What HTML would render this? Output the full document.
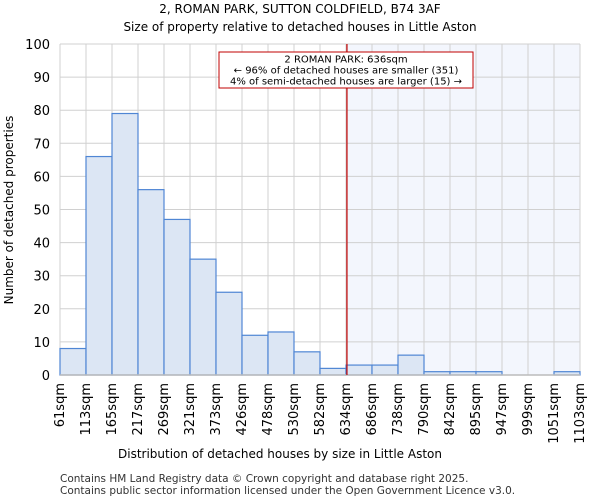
<!DOCTYPE html>
<html><head><meta charset="utf-8"><style>
body{margin:0;background:#fff;}
svg{display:block;font-family:"DejaVu Sans","Liberation Sans",sans-serif;}
</style></head><body>
<svg id="c" width="600" height="500">
<text x="300" y="13" text-anchor="middle" font-size="12">2, ROMAN PARK, SUTTON COLDFIELD, B74 3AF</text>
<text x="300" y="31" text-anchor="middle" font-size="12">Size of property relative to detached houses in Little Aston</text>
<g id="plot"></g>
<text x="280" y="458" text-anchor="middle" font-size="12">Distribution of detached houses by size in Little Aston</text>
<text transform="translate(13,210) rotate(-90)" text-anchor="middle" font-size="12">Number of detached properties</text>
<text x="60" y="482" font-size="10.5" fill="#333">Contains HM Land Registry data © Crown copyright and database right 2025.</text>
<text x="60" y="494" font-size="10.5" fill="#333">Contains public sector information licensed under the Open Government Licence v3.0.</text>
</svg>
<script>
const binLabels=["61sqm","113sqm","165sqm","217sqm","269sqm","321sqm","373sqm","426sqm","478sqm","530sqm","582sqm","634sqm","686sqm","738sqm","790sqm","842sqm","895sqm","947sqm","999sqm","1051sqm","1103sqm"];
const binEdges=[61,113.1,165.2,217.3,269.4,321.5,373.6,425.7,477.8,529.9,582,634.1,686.2,738.3,790.4,842.5,894.6,946.7,998.8,1050.9,1103];
const counts=[8,66,79,56,47,35,25,12,13,7,2,3,3,6,1,1,1,0,0,1];
const yTicks=[0,10,20,30,40,50,60,70,80,90,100];
const propertySize=636;
const annotation=["2 ROMAN PARK: 636sqm","← 96% of detached houses are smaller (351)","4% of semi-detached houses are larger (15) →"];
const L=60,R=580,T=44,B=375;
const x=v=>L+(v-binEdges[0])/(binEdges[binEdges.length-1]-binEdges[0])*(R-L);
const y=v=>B-v/100*(B-T);
const NS="http://www.w3.org/2000/svg";
const g=document.getElementById('plot');
function mk(t,a,p){const e=document.createElementNS(NS,t);for(const k in a)e.setAttribute(k,a[k]);(p||g).appendChild(e);return e;}
const px=x(propertySize);
const sh=mk('rect',{x:px,y:T,width:R-px,height:B-T,fill:'#f3f6fd'});


yTicks.forEach(t=>{
 const l=mk('line',{x1:L,x2:R,y1:y(t),y2:y(t),stroke:'#d0d0d0','stroke-width':1});
 
 
 const tx=mk('text',{x:L-10,y:y(t)+5,'text-anchor':'end','font-size':13});
 tx.textContent=t;
 
 
});
binEdges.forEach((e,i)=>{
 const l=mk('line',{x1:x(e),x2:x(e),y1:T,y2:B,stroke:'#d0d0d0','stroke-width':1});
 
 
 const xx=x(e)+4,yy=B+8;
 const tx=mk('text',{transform:`translate(${xx},${yy}) rotate(-90)`,'text-anchor':'end','font-size':13});
 tx.textContent=binLabels[i];
 
 
});
counts.forEach((c,i)=>{
 const x0=x(binEdges[i]),x1=x(binEdges[i+1]);
 const r=mk('rect',{x:x0,y:y(c),width:x1-x0,height:B-y(c),fill:'#dce6f4',stroke:'#4f86d4','stroke-width':1.2});
 
 
});
const ax=mk('line',{x1:L,x2:R,y1:B,y2:B,stroke:'#bbbbbb','stroke-width':1.5});


const pl=mk('line',{x1:px,x2:px,y1:T,y2:B,stroke:'#c00000','stroke-width':1.2});


const box=mk('rect',{x:219,y:52,width:254,height:36,fill:'#fff',stroke:'#c00000','stroke-width':1});


annotation.forEach((s,i)=>{
 const t=mk('text',{x:346,y:62.5+i*11,'text-anchor':'middle','font-size':10});
 t.textContent=s;
 
 
});
</script>
</body></html>
